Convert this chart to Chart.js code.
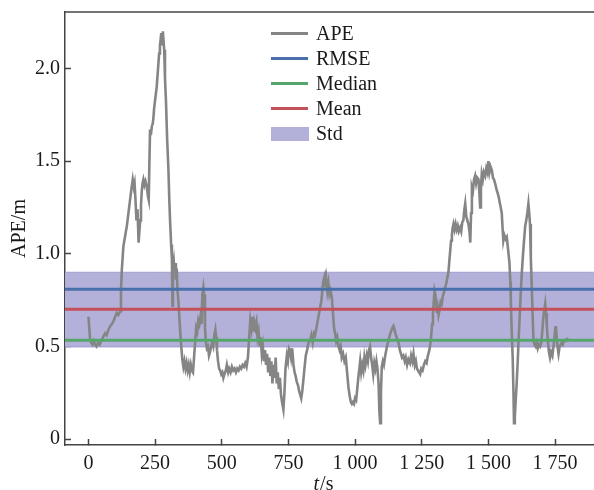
<!DOCTYPE html>
<html>
<head>
<meta charset="utf-8">
<script src="https://cdn.jsdelivr.net/npm/chart.js@4.4.1/dist/chart.umd.min.js"></script>
<style>
    html, body { margin: 0; padding: 0; background: #fff; overflow: hidden; }
    #wrap { position: relative; width: 594px; height: 490px; }
    #legend { position: absolute; left: 271px; top: 20.5px; font: 20px "Liberation Serif", "Times New Roman", serif; color: #1a1a1a; }
    .row { position: relative; height: 25.2px; line-height: 25px; width: 120px; }
    .row .sw { position: absolute; left: 0; top: 11px; width: 37px; height: 3px; }
    .row .sw.box { top: 6px; height: 14px; width: 38px; }
    .row .txt { position: absolute; left: 45px; top: 0; white-space: nowrap; }
</style>
</head>
<body>
<div id="wrap">
    <canvas id="my-chart" width="594" height="490"></canvas>
    <div id="legend"></div>
</div>
<script>
// APE over time (t in s, APE in m)
var apeTime = [
    0, 3, 6, 10, 15, 20, 25, 30, 36, 42, 48, 55, 62, 68, 75, 82, 88, 95, 100, 106,
    112, 119, 122, 125, 131, 138, 144, 150, 156, 162, 166, 170, 173, 176, 180, 184, 188, 191, 194, 197,
    200, 203, 206, 210, 214, 219, 223, 226, 228, 231, 234, 238, 241, 244, 246, 250, 256, 260, 265, 268,
    271, 273, 276, 279, 282, 284, 287, 291, 295, 300, 303, 306, 310, 313, 315, 317, 320, 323, 326, 328,
    331, 334, 337, 340, 344, 348, 352, 356, 360, 364, 368, 372, 376, 380, 384, 388, 392, 396, 400, 404,
    408, 412, 416, 420, 424, 427, 431, 434, 437, 440, 444, 448, 452, 456, 460, 464, 468, 472, 476, 479,
    482, 486, 490, 494, 498, 502, 506, 510, 515, 519, 524, 528, 533, 538, 543, 548, 553, 558, 563, 568,
    573, 578, 583, 588, 593, 598, 603, 607, 611, 614, 618, 622, 626, 630, 634, 638, 642, 646, 650, 654,
    658, 662, 666, 670, 674, 678, 682, 686, 690, 694, 698, 702, 706, 710, 714, 718, 722, 726, 731, 735,
    739, 744, 748, 752, 756, 760, 764, 769, 773, 777, 781, 786, 790, 794, 798, 802, 806, 810, 815, 820,
    825, 831, 836, 841, 846, 850, 855, 860, 865, 869, 874, 878, 882, 886, 889, 892, 896, 900, 904, 908,
    913, 917, 921, 925, 929, 933, 938, 942, 946, 950, 955, 960, 965, 970, 975, 980, 984, 988, 992, 996,
    1000, 1004, 1008, 1012, 1016, 1019, 1023, 1027, 1031, 1035, 1039, 1044, 1048, 1052, 1056, 1060, 1064, 1068, 1072, 1076,
    1080, 1084, 1088, 1091, 1094, 1097, 1100, 1104, 1108, 1113, 1117, 1121, 1125, 1130, 1135, 1140, 1144, 1148, 1153, 1158,
    1163, 1168, 1172, 1176, 1181, 1186, 1190, 1195, 1200, 1206, 1210, 1215, 1219, 1224, 1228, 1232, 1236, 1240, 1244, 1248,
    1253, 1258, 1263, 1268, 1273, 1277, 1281, 1285, 1289, 1292, 1295, 1298, 1301, 1304, 1307, 1310, 1313, 1317, 1321, 1325,
    1329, 1333, 1338, 1342, 1346, 1350, 1354, 1357, 1360, 1363, 1366, 1369, 1373, 1377, 1381, 1385, 1389, 1394, 1398, 1402,
    1406, 1410, 1413, 1417, 1421, 1425, 1429, 1432, 1435, 1438, 1442, 1446, 1450, 1454, 1458, 1463, 1466, 1469, 1472, 1475,
    1479, 1483, 1488, 1492, 1496, 1500, 1504, 1508, 1513, 1517, 1521, 1525, 1530, 1534, 1538, 1542, 1546, 1550, 1553, 1556,
    1560, 1565, 1569, 1574, 1579, 1582, 1584, 1587, 1591, 1594, 1596, 1599, 1602, 1606, 1610, 1613, 1617, 1621, 1625, 1629,
    1633, 1638, 1642, 1646, 1650, 1653, 1656, 1659, 1663, 1666, 1669, 1673, 1677, 1681, 1685, 1689, 1694, 1698, 1702, 1706,
    1710, 1713, 1716, 1719, 1723, 1727, 1731, 1735, 1740, 1744, 1748, 1751, 1753, 1756, 1760, 1763, 1767, 1771, 1775, 1779,
    1783, 1788, 1792, 1796, 1800
];
var apeValue = [
    0.66, 0.60, 0.54, 0.52, 0.51, 0.53, 0.51, 0.50, 0.52, 0.51, 0.53, 0.55, 0.57, 0.56, 0.59, 0.61, 0.62, 0.64, 0.66, 0.68,
    0.67, 0.69, 0.80, 0.91, 1.04, 1.10, 1.15, 1.22, 1.29, 1.36, 1.40, 1.36, 1.38, 1.30, 1.18, 1.24, 1.06, 1.12, 1.18, 1.26,
    1.34, 1.38, 1.40, 1.37, 1.39, 1.36, 1.31, 1.29, 1.45, 1.67, 1.64, 1.69, 1.70, 1.74, 1.78, 1.83, 1.90, 1.98, 2.08, 2.12,
    2.16, 2.19, 2.13, 2.20, 2.14, 2.10, 1.95, 1.81, 1.62, 1.45, 1.30, 1.18, 1.05, 0.97, 0.72, 0.93, 0.96, 0.90, 0.95, 0.86,
    0.92, 0.80, 0.75, 0.68, 0.58, 0.50, 0.43, 0.39, 0.42, 0.38, 0.41, 0.37, 0.40, 0.36, 0.40, 0.37, 0.36, 0.44, 0.52, 0.60,
    0.58, 0.64, 0.62, 0.66, 0.62, 0.78, 0.82, 0.78, 0.60, 0.53, 0.49, 0.50, 0.45, 0.47, 0.50, 0.52, 0.50, 0.56, 0.59, 0.55,
    0.48, 0.42, 0.38, 0.37, 0.35, 0.36, 0.33, 0.35, 0.37, 0.40, 0.36, 0.38, 0.36, 0.39, 0.37, 0.38, 0.36, 0.38, 0.37, 0.39,
    0.38, 0.40, 0.39, 0.41, 0.39, 0.44, 0.55, 0.64, 0.60, 0.66, 0.58, 0.63, 0.60, 0.63, 0.55, 0.58, 0.50, 0.55, 0.46, 0.50,
    0.42, 0.48, 0.40, 0.46, 0.36, 0.44, 0.34, 0.42, 0.30, 0.40, 0.33, 0.44, 0.30, 0.36, 0.27, 0.33, 0.24, 0.20, 0.16, 0.25,
    0.38, 0.45, 0.42, 0.49, 0.48, 0.44, 0.49, 0.40, 0.36, 0.34, 0.31, 0.29, 0.26, 0.24, 0.22, 0.26, 0.32, 0.38, 0.45, 0.48,
    0.52, 0.53, 0.56, 0.52, 0.57, 0.56, 0.60, 0.64, 0.68, 0.71, 0.75, 0.82, 0.86, 0.88, 0.82, 0.86, 0.80, 0.84, 0.78, 0.80,
    0.76, 0.68, 0.60, 0.57, 0.53, 0.55, 0.50, 0.48, 0.50, 0.44, 0.46, 0.42, 0.44, 0.36, 0.28, 0.23, 0.20, 0.19, 0.20, 0.19,
    0.22, 0.21, 0.27, 0.33, 0.38, 0.42, 0.36, 0.40, 0.37, 0.44, 0.40, 0.45, 0.42, 0.48, 0.50, 0.44, 0.40, 0.35, 0.41, 0.38,
    0.42, 0.38, 0.30, 0.15, 0.085, 0.25, 0.39, 0.42, 0.40, 0.45, 0.48, 0.51, 0.53, 0.56, 0.58, 0.60, 0.61, 0.59, 0.56, 0.54,
    0.52, 0.48, 0.46, 0.44, 0.45, 0.42, 0.44, 0.40, 0.43, 0.41, 0.45, 0.42, 0.46, 0.40, 0.42, 0.38, 0.37, 0.36, 0.35, 0.38,
    0.37, 0.40, 0.42, 0.41, 0.45, 0.47, 0.50, 0.55, 0.62, 0.68, 0.74, 0.80, 0.78, 0.72, 0.68, 0.71, 0.67, 0.70, 0.74, 0.73,
    0.77, 0.79, 0.82, 0.84, 0.87, 0.90, 0.97, 1.02, 1.07, 1.10, 1.14, 1.16, 1.13, 1.16, 1.13, 1.15, 1.12, 1.14, 1.12, 1.17,
    1.18, 1.24, 1.27, 1.20, 1.18, 1.16, 1.12, 1.06, 1.22, 1.36, 1.34, 1.40, 1.42, 1.38, 1.41, 1.40, 1.33, 1.25, 1.36, 1.43,
    1.40, 1.44, 1.42, 1.46, 1.44, 1.50, 1.44, 1.47, 1.45, 1.41, 1.40, 1.38, 1.35, 1.33, 1.31, 1.28, 1.25, 1.22, 1.14, 1.07,
    1.10, 1.08, 1.09, 1.02, 0.95, 0.85, 0.75, 0.60, 0.44, 0.25, 0.085, 0.12, 0.20, 0.30, 0.42, 0.53, 0.65, 0.78, 0.89, 0.98,
    1.06, 1.15, 1.18, 1.22, 1.27, 1.22, 1.16, 0.98, 0.80, 0.66, 0.53, 0.51, 0.50, 0.52, 0.49, 0.51, 0.50, 0.52, 0.58, 0.66,
    0.70, 0.73, 0.68, 0.61, 0.53, 0.47, 0.44, 0.47, 0.45, 0.50, 0.55, 0.60, 0.61, 0.55, 0.49, 0.46, 0.50, 0.51, 0.52, 0.51,
    0.53, 0.535, 0.53, 0.54, 0.535
];

// summary statistics (m)
var rmse = 0.808;
var mean = 0.700;
var median = 0.533;
var stdLow = 0.497;
var stdHigh = 0.900;

// axes
var xMin = -88, xMax = 1896;
var yMin = -0.032, yMax = 2.304;
var xTicks = [0, 250, 500, 750, 1000, 1250, 1500, 1750];
var xTickLabels = ["0", "250", "500", "750", "1 000", "1 250", "1 500", "1 750"];
var yTicks = [0, 0.5, 1.0, 1.5, 2.0];
var yTickLabels = ["0", "0.5", "1.0", "1.5", "2.0"];

var legendLabels = ["APE", "RMSE", "Median", "Mean", "Std"];
var legendColors = ["#858585", "#4a70ab", "#55a66a", "#c4505a", "#b3b1d9"];

var FONT = '"Liberation Serif", "Times New Roman", serif';
var AXIS_COLOR = "#444";

function hline(value) {
    return [{x: xMin, y: value}, {x: xMax, y: value}];
}

var apePoints = [];
for (var i = 0; i < apeTime.length; i++) {
    apePoints.push({x: apeTime[i], y: apeValue[i]});
}

// top spine and the x label (italic t)
var framePlugin = {
    id: "frame",
    afterDraw: function (chart) {
        var ctx = chart.ctx;
        var area = chart.chartArea;
        ctx.save();
        ctx.strokeStyle = AXIS_COLOR;
        ctx.lineWidth = 1.5;
        ctx.beginPath();
        ctx.moveTo(area.left, area.top);
        ctx.lineTo(area.right, area.top);
        ctx.stroke();

        ctx.fillStyle = "#1a1a1a";
        ctx.textBaseline = "alphabetic";
        ctx.textAlign = "left";
        ctx.font = "italic 20px " + FONT;
        var tW = ctx.measureText("t").width;
        ctx.font = "20px " + FONT;
        var sW = ctx.measureText("/s").width;
        var x0 = 323 - (tW + sW) / 2;
        ctx.font = "italic 20px " + FONT;
        ctx.fillText("t", x0, 490);
        ctx.font = "20px " + FONT;
        ctx.fillText("/s", x0 + tW + 1, 490);
        ctx.restore();
    }
};

function noPadding(scale) {
    scale.paddingTop = 0;
    scale.paddingBottom = 0;
    scale.paddingLeft = 0;
    scale.paddingRight = 0;
}

Chart.defaults.font.family = FONT;
Chart.defaults.font.size = 20;
Chart.defaults.color = "#1a1a1a";

var config = {
    type: "line",
    data: {
        datasets: [{
            label: "Std",
            data: hline(stdHigh),
            borderColor: "rgba(150,146,205,0.8)",
            borderWidth: 1,
            backgroundColor: legendColors[4],
            fill: "+1",
            pointRadius: 0,
            order: 5
        }, {
            label: "Std low",
            data: hline(stdLow),
            borderColor: "rgba(150,146,205,0.8)",
            borderWidth: 1,
            fill: false,
            pointRadius: 0,
            order: 4
        }, {
            label: "APE",
            data: apePoints,
            borderColor: legendColors[0],
            borderWidth: 2.6,
            fill: false,
            pointRadius: 0,
            tension: 0,
            order: 3
        }, {
            label: "Median",
            data: hline(median),
            borderColor: legendColors[2],
            borderWidth: 3,
            fill: false,
            pointRadius: 0,
            order: 2
        }, {
            label: "Mean",
            data: hline(mean),
            borderColor: legendColors[3],
            borderWidth: 3,
            fill: false,
            pointRadius: 0,
            order: 1
        }, {
            label: "RMSE",
            data: hline(rmse),
            borderColor: legendColors[1],
            borderWidth: 3,
            fill: false,
            pointRadius: 0,
            order: 0
        }]
    },
    options: {
        responsive: false,
        animation: false,
        events: [],
        layout: {padding: {top: 12, right: 0, bottom: 0, left: 0}},
        plugins: {legend: {display: false}, tooltip: {enabled: false}},
        scales: {
            x: {
                type: "linear",
                min: xMin,
                max: xMax,
                afterBuildTicks: function (scale) {
                    scale.ticks = xTicks.map(function (v) { return {value: v}; });
                },
                afterFit: function (scale) { scale.height = 45; noPadding(scale); },
                ticks: {
                    padding: 13,
                    maxRotation: 0,
                    autoSkip: false,
                    color: "#1a1a1a",
                    callback: function (v, i) { return xTickLabels[i]; }
                },
                grid: {drawOnChartArea: false, tickLength: -6, color: AXIS_COLOR, tickWidth: 1.5},
                border: {color: AXIS_COLOR, width: 1.5}
            },
            y: {
                type: "linear",
                min: yMin,
                max: yMax,
                afterBuildTicks: function (scale) {
                    scale.ticks = yTicks.map(function (v) { return {value: v}; });
                },
                afterFit: function (scale) { scale.width = 65; noPadding(scale); },
                ticks: {
                    padding: 11,
                    autoSkip: false,
                    color: "#1a1a1a",
                    callback: function (v, i) { return yTickLabels[i]; }
                },
                title: {display: true, text: "APE/m", padding: {top: 8, bottom: 0}, color: "#1a1a1a"},
                grid: {drawOnChartArea: false, tickLength: -6, color: AXIS_COLOR, tickWidth: 1.5},
                border: {color: AXIS_COLOR, width: 1.5}
            }
        }
    },
    plugins: [framePlugin]
};

var ctx = document.getElementById("my-chart").getContext("2d");
var apeChart = new Chart(ctx, config);

// legend, laid out like the original
var legend = document.getElementById("legend");
for (var j = 0; j < legendLabels.length; j++) {
    var row = document.createElement("div");
    row.className = "row";
    var sw = document.createElement("span");
    sw.className = legendLabels[j] === "Std" ? "sw box" : "sw";
    sw.style.background = legendColors[j];
    var txt = document.createElement("span");
    txt.className = "txt";
    txt.textContent = legendLabels[j];
    row.appendChild(sw);
    row.appendChild(txt);
    legend.appendChild(row);
}
</script>
</body>
</html>
